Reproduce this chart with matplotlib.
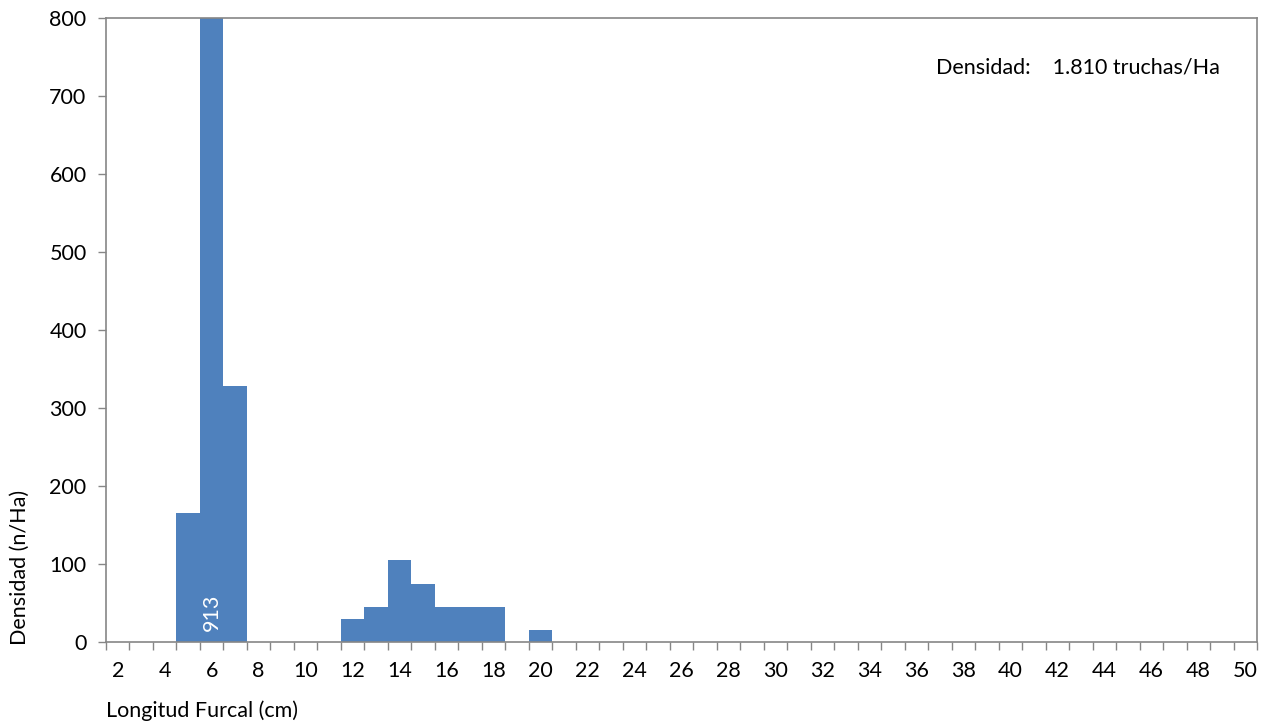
import matplotlib.pyplot as plt
import numpy as np

plt.rcParams['font.family'] = ['Lato', 'DejaVu Sans']

# longitud furcal (cm) y densidad (n/Ha)
longitud = list(range(2, 51))
bar_len = [5, 6, 7, 12, 13, 14, 15, 16, 17, 18, 20]
bar_dens = [165, 913, 328, 30, 45, 105, 75, 45, 45, 45, 15]
densidad = [bar_dens[bar_len.index(l)] if l in bar_len else 0 for l in longitud]
etiqueta_barra = '913'
nota = 'Densidad:    1.810 truchas/Ha'

color = '#4F81BD'
gris = '#868686'
fs = 15.5

fig = plt.figure(figsize=(12.7, 7.25), dpi=100)
ax = fig.add_axes([106 / 1270, (725 - 642) / 725, 1151 / 1270, 624 / 725])

ax.bar(longitud, densidad, width=1.0, color=color, edgecolor='none')
ax.set_xlim(1.5, 50.5)
ax.set_ylim(0, 800)

ax.set_xticks(longitud[::2])
ax.set_xticklabels([str(v) for v in longitud[::2]], fontsize=fs)
ax.set_xticks(np.arange(1.5, 51, 1), minor=True)
ax.tick_params(axis='x', which='major', length=0, pad=14)
ax.tick_params(axis='x', which='minor', length=6, color=gris, width=1)
ax.set_yticks(range(0, 801, 100))
ax.tick_params(axis='y', labelsize=fs, length=6, color=gris, width=1, pad=8)

for s in ax.spines.values():
    s.set_color(gris)
    s.set_linewidth(1.2)

ax.text(6, 14, etiqueta_barra, rotation=90, color='white', fontsize=fs,
        ha='center', va='bottom')

fig.text(936 / 1270, 1 - 68 / 725, nota, fontsize=fs, ha='left', va='center')
fig.text(20 / 1270, 1 - 567 / 725, 'Densidad (n/Ha)', rotation=90,
         fontsize=fs, ha='center', va='center')
fig.text(106 / 1270, 1 - 711 / 725, 'Longitud Furcal (cm)', fontsize=fs,
         ha='left', va='center')

fig.savefig('out.png', dpi=100)
